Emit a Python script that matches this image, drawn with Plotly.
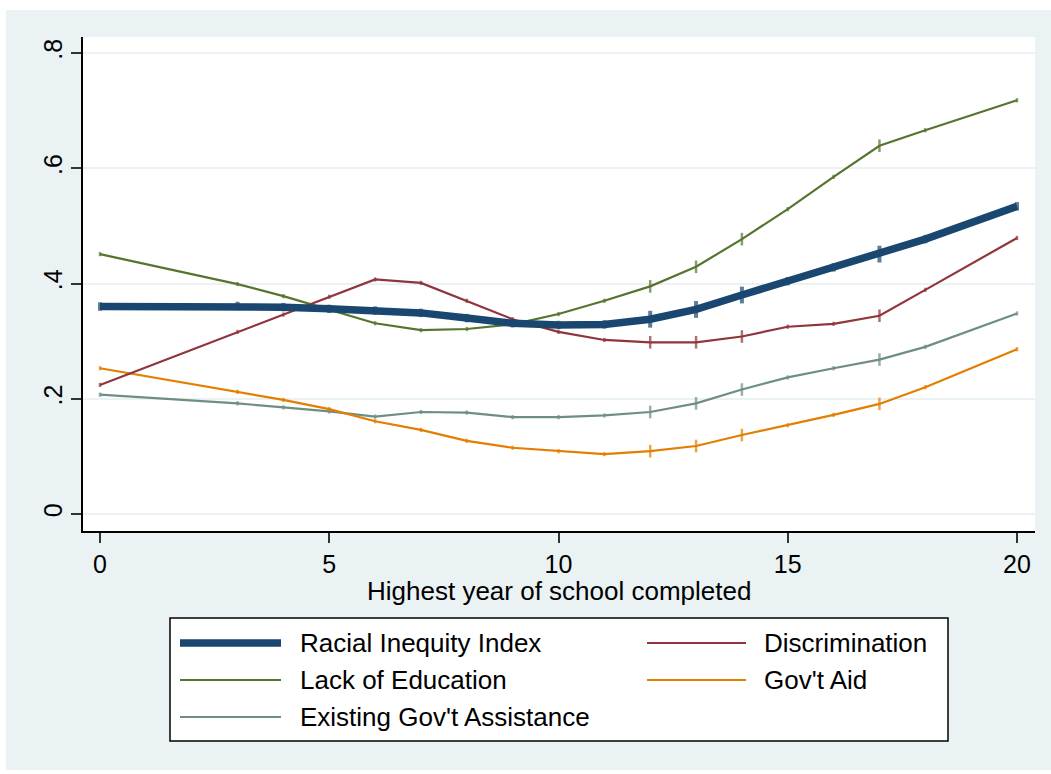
import plotly.graph_objects as go

# ---- data ----
years = [0, 3, 4, 5, 6, 7, 8, 9, 10, 11, 12, 13, 14, 15, 16, 17, 18, 20]

racial_inequity = [0.360, 0.361, 0.359, 0.356, 0.353, 0.349, 0.340, 0.331, 0.328, 0.329,
                   0.338, 0.355, 0.380, 0.404, 0.428, 0.451, 0.477, 0.534]
discrimination = [0.224, 0.316, 0.346, 0.377, 0.407, 0.401, 0.370, 0.338, 0.316, 0.302,
                  0.298, 0.298, 0.308, 0.325, 0.330, 0.344, 0.389, 0.479]
lack_education = [0.451, 0.399, 0.378, 0.354, 0.331, 0.319, 0.321, 0.329, 0.347, 0.370,
                  0.395, 0.429, 0.477, 0.529, 0.585, 0.639, 0.666, 0.718]
govt_aid = [0.253, 0.212, 0.198, 0.182, 0.161, 0.146, 0.127, 0.115, 0.109, 0.104,
            0.109, 0.118, 0.137, 0.154, 0.172, 0.191, 0.220, 0.286]
existing_assist = [0.207, 0.192, 0.185, 0.178, 0.169, 0.177, 0.176, 0.168, 0.168, 0.171,
                   0.177, 0.192, 0.216, 0.237, 0.253, 0.268, 0.290, 0.348]

series_names = ["Racial Inequity Index", "Discrimination", "Lack of Education",
                "Gov't Aid", "Existing Gov't Assistance"]
x_ticks = [0, 5, 10, 15, 20]
y_ticks = [0, 0.2, 0.4, 0.6, 0.8]
y_tick_labels = ["0", ".2", ".4", ".6", ".8"]
x_title = "Highest year of school completed"

# ---- styling ----
BG = "#EAF2F3"
colors = {
    "Racial Inequity Index": "#1A476F",
    "Discrimination": "#90353B",
    "Lack of Education": "#55752F",
    "Gov't Aid": "#E37E00",
    "Existing Gov't Assistance": "#6E8E84",
}
widths = {
    "Racial Inequity Index": 7.5,
    "Discrimination": 2.2,
    "Lack of Education": 2.2,
    "Gov't Aid": 2.2,
    "Existing Gov't Assistance": 2.2,
}
values = {
    "Racial Inequity Index": racial_inequity,
    "Discrimination": discrimination,
    "Lack of Education": lack_education,
    "Gov't Aid": govt_aid,
    "Existing Gov't Assistance": existing_assist,
}
FONT = "Liberation Sans, Arial, Helvetica, sans-serif"

# plot-area pixel geometry
W, H = 1051, 774
L, R, T, B = 83, 1035, 37, 531
PW, PH = R - L, B - T


def px(x):
    return (x - L) / PW


def py(y):
    return (B - y) / PH


big = {12, 13, 14, 17}

fig = go.Figure()
draw_order = ["Existing Gov't Assistance", "Gov't Aid", "Lack of Education",
              "Discrimination", "Racial Inequity Index"]
for name in draw_order:
    thick = name == "Racial Inequity Index"
    sizes = [(9 if x in big else 3) + (3 if thick else 0) for x in years]
    fig.add_trace(go.Scatter(
        x=years, y=values[name], name=name, mode="lines+markers",
        line=dict(color=colors[name], width=widths[name]),
        marker=dict(symbol="line-ns", size=sizes, color=colors[name],
                    line=dict(color=colors[name], width=4 if thick else 2.5)),
        showlegend=False,
    ))

shapes = []
annotations = []

# outer light background panel
shapes.append(dict(type="rect", xref="paper", yref="paper", layer="below",
                   x0=px(6), x1=px(1051), y0=py(770), y1=py(10),
                   fillcolor=BG, line=dict(width=0)))
# white plot region
shapes.append(dict(type="rect", xref="paper", yref="paper", layer="below",
                   x0=0, x1=1, y0=0, y1=1, fillcolor="white", line=dict(width=0)))

# legend box
shapes.append(dict(type="rect", xref="paper", yref="paper",
                   x0=px(170), x1=px(948), y0=py(741), y1=py(618),
                   fillcolor="white", line=dict(color="black", width=1.5)))
legend_layout = [
    ("Racial Inequity Index", 180, 281, 298, 643),
    ("Discrimination", 647, 746, 762, 643),
    ("Lack of Education", 180, 281, 298, 680),
    ("Gov't Aid", 647, 746, 762, 680),
    ("Existing Gov't Assistance", 180, 281, 298, 717),
]
for name, lx0, lx1, tx, ly in legend_layout:
    shapes.append(dict(type="line", xref="paper", yref="paper",
                       x0=px(lx0), x1=px(lx1), y0=py(ly), y1=py(ly),
                       line=dict(color=colors[name], width=widths[name])))
    annotations.append(dict(xref="paper", yref="paper", x=px(tx), y=py(ly),
                            text=name, showarrow=False, xanchor="left", yanchor="middle",
                            font=dict(family=FONT, size=26, color="black")))

# x-axis title
annotations.append(dict(xref="paper", yref="paper", x=px(559), y=py(591),
                        text=x_title, showarrow=False, xanchor="center", yanchor="middle",
                        font=dict(family=FONT, size=26, color="black")))

fig.update_layout(
    width=W, height=H, autosize=False,
    margin=dict(l=L, r=W - R, t=T, b=H - B, pad=0),
    paper_bgcolor="white", plot_bgcolor="rgba(0,0,0,0)",
    shapes=shapes, annotations=annotations,
    showlegend=False,
)
fig.update_xaxes(
    range=[(L - 100) / 45.85, (R - 100) / 45.85],
    tickvals=x_ticks, ticktext=[str(v) for v in x_ticks],
    ticks="outside", ticklen=10, tickwidth=1.5, tickcolor="#333333",
    showline=True, linecolor="black", linewidth=1.5,
    showgrid=False, zeroline=False,
    tickfont=dict(family=FONT, size=25, color="black"),
    ticklabelstandoff=0,
)
fig.update_yaxes(
    range=[(514 - B) / 576.25, (514 - T) / 576.25],
    tickvals=y_ticks, ticktext=y_tick_labels, tickangle=-90,
    ticks="outside", ticklen=10, tickwidth=1.5, tickcolor="#333333",
    showline=True, linecolor="black", linewidth=1.5,
    showgrid=True, gridcolor=BG, gridwidth=2, zeroline=False,
    tickfont=dict(family=FONT, size=25, color="black"),
    ticklabelstandoff=-1,
)

fig.write_html("out.html")
